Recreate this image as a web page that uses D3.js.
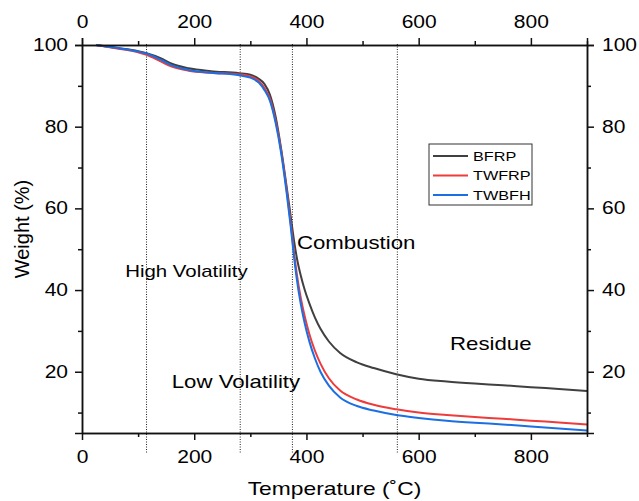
<!DOCTYPE html>
<html>
<head>
<meta charset="utf-8">
<script src="https://cdn.jsdelivr.net/npm/d3@7"></script>
<style>
body { margin: 0; background: #fff; }
svg { display: block; font-family: "Liberation Sans", Arial, sans-serif; }
</style>
</head>
<body>
<script>
// temperature grid (°C) shared by the three TGA curves
var temps = [25, 60, 100, 115, 140, 160, 190, 230, 280, 300, 315, 325, 335, 345, 355, 365, 372, 378, 383, 390, 397, 405, 415, 425, 440, 460, 490, 520, 560, 600, 650, 700, 750, 800, 850, 900];
var bfrp  = [100, 99.3, 98.5, 98.0, 96.8, 95.4, 94.3, 93.6, 93.1, 92.7, 91.7, 90.5, 87.8, 82.5, 74.5, 65.0, 58.0, 52.0, 47.8, 43.5, 40.0, 36.8, 33.3, 30.5, 27.4, 24.6, 22.3, 20.9, 19.4, 18.3, 17.6, 17.1, 16.7, 16.2, 15.8, 15.3];
var twfrp = [100, 99.2, 98.2, 97.6, 96.0, 94.7, 93.7, 93.2, 92.8, 92.3, 91.2, 89.5, 86.8, 81.5, 74.0, 64.2, 56.3, 49.0, 43.8, 38.0, 33.5, 29.3, 25.2, 22.0, 18.4, 15.4, 13.2, 11.9, 10.8, 10.0, 9.4, 8.9, 8.5, 8.0, 7.6, 7.1];
var twbfh = [100, 99.3, 98.4, 97.9, 96.4, 95.0, 93.9, 93.2, 92.6, 92.0, 90.8, 89.0, 86.3, 81.0, 73.5, 63.5, 55.5, 48.0, 42.5, 36.5, 31.8, 27.5, 23.3, 20.0, 16.6, 13.7, 11.6, 10.5, 9.4, 8.7, 8.0, 7.5, 7.1, 6.6, 6.1, 5.6];

var seriesNames = ["BFRP", "TWFRP", "TWBFH"];
var seriesColors = ["#404040", "#ee3b3b", "#1c6fe3"];

var xTicks = [0, 200, 400, 600, 800];
var xMinor = [100, 300, 500, 700, 900];
var yTicks = [20, 40, 60, 80, 100];
var yMinor = [10, 30, 50, 70, 90];

// stage boundaries (dotted lines) and stage labels
var stageBounds = [115, 282, 375, 562];
var stageLabels = ["High Volatility", "Combustion", "Low Volatility", "Residue"];
var stageLabelT = [77, 383, 160, 656];
var stageLabelW = [43.2, 50.0, 16.0, 25.3];
var stageLabelSize = [17, 18.5, 18.5, 18.5];

(function () {
    var width = 639, height = 501;
    var mLeft = 82, mRight = 587, mTop = 45, mBottom = 433;
    var stretch = 1.2;
    var seriesValues = [bfrp, twfrp, twbfh];

    var svg = d3.select("body").append("svg")
        .attr("width", width)
        .attr("height", height);

    var x = d3.scaleLinear().domain([0, 900]).range([mLeft, mRight]);
    var y = d3.scaleLinear().domain([5, 100]).range([mBottom, mTop]);

    // dotted stage lines
    svg.append("g")
        .selectAll("line")
        .data(stageBounds)
        .enter()
        .append("line")
        .attr("x1", d => x(d))
        .attr("x2", d => x(d))
        .attr("y1", mTop - 1)
        .attr("y2", mBottom + 20)
        .attr("stroke", "#222")
        .attr("stroke-width", 1)
        .attr("stroke-dasharray", "1,1.5");

    // curves
    var line = d3.line()
        .x((d, i) => x(temps[i]))
        .y(d => y(d))
        .curve(d3.curveMonotoneX);

    svg.append("g")
        .selectAll("path")
        .data(seriesValues)
        .enter()
        .append("path")
        .attr("d", d => line(d))
        .attr("fill", "none")
        .attr("stroke", (d, i) => seriesColors[i])
        .attr("stroke-width", 2);

    // axes
    function styleAxis(g) {
        g.select(".domain").attr("stroke", "#111").attr("stroke-width", 1.5);
        g.selectAll(".tick line").attr("stroke", "#111").attr("stroke-width", 1.5);
        g.selectAll(".tick text")
            .attr("fill", "#000")
            .style("font-size", "17.5px")
            .style("font-family", "'Liberation Sans', Arial, sans-serif")
            .classed("stretch", true);
    }

    var gx = svg.append("g").attr("transform", "translate(0," + mBottom + ")");
    gx.call(d3.axisBottom(x).tickValues(xMinor).tickSize(4).tickSizeOuter(0).tickFormat(""));
    gx.append("g").call(d3.axisBottom(x).tickValues(xTicks).tickSize(7).tickSizeOuter(0).tickPadding(11)).call(styleAxis);
    gx.call(styleAxis);

    var gxt = svg.append("g").attr("transform", "translate(0," + mTop + ")");
    gxt.call(d3.axisTop(x).tickValues(xMinor).tickSize(4).tickSizeOuter(7).tickFormat(""));
    gxt.append("g").call(d3.axisTop(x).tickValues(xTicks).tickSize(7).tickSizeOuter(0).tickPadding(10)).call(styleAxis);
    gxt.call(styleAxis);

    var gy = svg.append("g").attr("transform", "translate(" + mLeft + ",0)");
    gy.call(d3.axisLeft(y).tickValues(yMinor).tickSize(4).tickSizeOuter(7).tickFormat(""));
    gy.append("g").call(d3.axisLeft(y).tickValues(yTicks).tickSize(7).tickSizeOuter(0).tickPadding(7)).call(styleAxis);
    gy.call(styleAxis);

    var gyr = svg.append("g").attr("transform", "translate(" + mRight + ",0)");
    gyr.call(d3.axisRight(y).tickValues(yMinor).tickSize(4).tickSizeOuter(7).tickFormat(""));
    gyr.append("g").call(d3.axisRight(y).tickValues(yTicks).tickSize(7).tickSizeOuter(0).tickPadding(8)).call(styleAxis);
    gyr.call(styleAxis);

    // axis titles
    svg.append("text")
        .attr("class", "stretch")
        .attr("x", (mLeft + mRight) / 2)
        .attr("y", 495)
        .attr("text-anchor", "middle")
        .style("font-size", "19px")
        .text("Temperature (\u02DAC)");

    svg.append("text")
        .attr("transform", "translate(29,229) rotate(-90)")
        .attr("text-anchor", "middle")
        .style("font-size", "20px")
        .text("Weight (%)");

    // stage labels
    svg.append("g")
        .selectAll("text")
        .data(stageLabels)
        .enter()
        .append("text")
        .attr("class", "stretch")
        .attr("x", (d, i) => x(stageLabelT[i]))
        .attr("y", (d, i) => y(stageLabelW[i]))
        .style("font-size", (d, i) => stageLabelSize[i] + "px")
        .text(d => d);

    // legend
    var legend = svg.append("g");
    legend.append("rect")
        .attr("x", 429).attr("y", 144)
        .attr("width", 103).attr("height", 61)
        .attr("fill", "#fff")
        .attr("stroke", "#333")
        .attr("stroke-width", 1);
    var rows = legend.selectAll("g.row")
        .data(seriesNames)
        .enter()
        .append("g")
        .attr("class", "row")
        .attr("transform", (d, i) => "translate(433," + (156 + i * 19.5) + ")");
    rows.append("line")
        .attr("x1", 0).attr("x2", 35)
        .attr("stroke", (d, i) => seriesColors[i])
        .attr("stroke-width", 2);
    rows.append("text")
        .attr("class", "stretch")
        .attr("x", 40)
        .attr("dy", "0.35em")
        .style("font-size", "13.5px")
        .text(d => d);

    // reference font looks horizontally widened
    svg.selectAll("text.stretch").each(function () {
        var w = this.getComputedTextLength();
        d3.select(this).attr("textLength", w * stretch).attr("lengthAdjust", "spacingAndGlyphs");
    });
})();
</script>
</body>
</html>
